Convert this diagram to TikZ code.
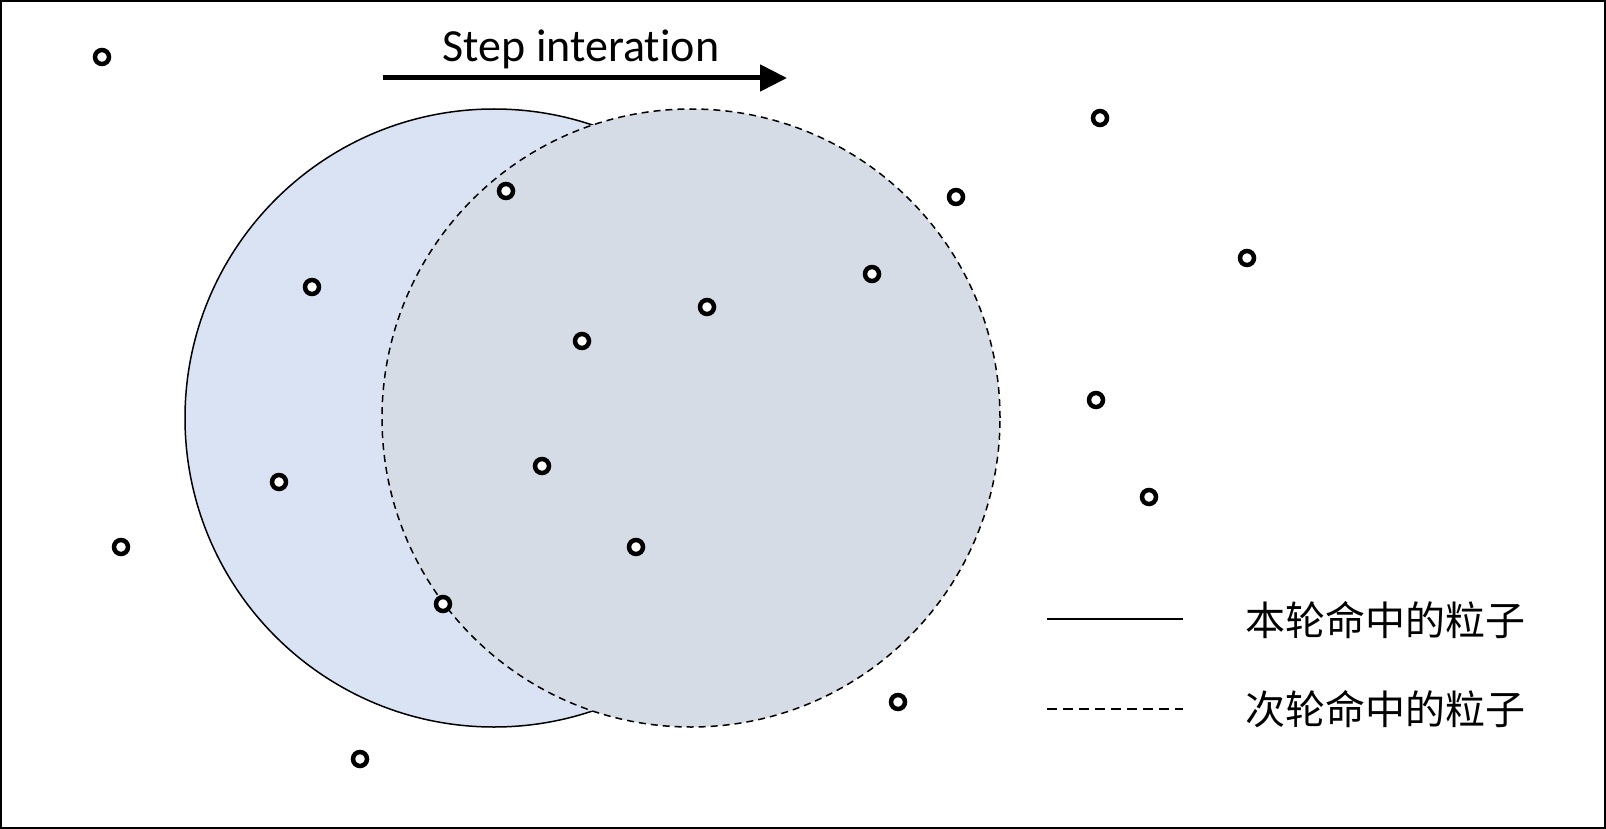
\documentclass[tikz,border=0pt]{standalone}
\usepackage{fontspec}
\setmainfont{Carlito}[Ligatures=NoCommon]
\newfontfamily\cjk{Noto Sans CJK SC}
\usetikzlibrary{arrows.meta}
\begin{document}
\begin{tikzpicture}[
        x=1pt, y=-1pt,
        curn/.style={draw, circle, inner sep=0pt, minimum size=618pt, line width=1.5pt, fill={rgb,255:red,218;green,227;blue,243}},
        nextn/.style={draw, circle, inner sep=0pt, minimum size=618pt, line width=1.5pt, dash pattern=on 7pt off 5pt, fill={rgb,255:red,214;green,220;blue,229}},
        particle/.style={draw, circle, inner sep=0pt, minimum size=14pt, line width=4.5pt, fill=white},
        legtext/.style={anchor=base west, inner sep=0pt, font=\cjk\fontsize{40}{46}\selectfont},
    ]
    \useasboundingbox (0,0) rectangle (1606,829);
    \draw[line width=2pt] (1,1) rectangle (1605,828);
    % circles
    \node[curn] (cur) at (494,418) {};
    \node[nextn] (next) at (691,418) {};
    % particles
    \foreach \px/\py [count=\i] in {102/57, 1100/118, 506/191, 956/197, 1247/258, 312/287,
            872/274, 707/307, 582/341, 1096/400, 279/482, 542/466, 1149/497,
            121/547, 636/547, 443/604, 898/702, 360/759}
        \node[particle] (p\i) at (\px,\py) {};
    % step arrow
    \coordinate (arrS) at (383,78);
    \coordinate (arrE) at (787,78);
    \draw[line width=5pt, -{Triangle[length=27pt,width=26pt]}] (arrS) -- (arrE);
    \node[anchor=base, inner sep=0pt, font=\fontsize{46}{54}\selectfont] (step) at (581,62) {Step interation};
    % legend
    \coordinate (l1a) at (1047,619);
    \coordinate (l1b) at (1183,619);
    \coordinate (l2a) at (1047,709);
    \coordinate (l2b) at (1183,709);
    \draw[line width=2pt] (l1a) -- (l1b);
    \draw[line width=2pt, dash pattern=on 10pt off 6pt] (l2a) -- (l2b);
    \node[legtext] (cur text) at (1245,635) {本轮命中的粒子};
    \node[legtext] (next text) at (1245,724) {次轮命中的粒子};
\end{tikzpicture}
\end{document}
